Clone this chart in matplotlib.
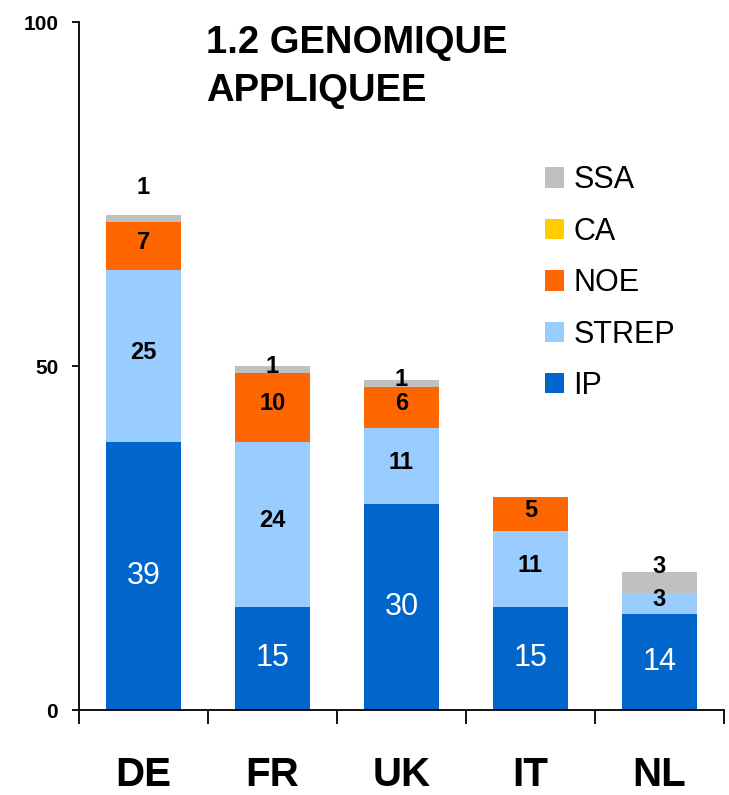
import matplotlib
matplotlib.use('Agg')
import matplotlib.pyplot as plt
from matplotlib.patches import Patch
import numpy as np

plt.rcParams['font.family'] = ['Liberation Sans', 'DejaVu Sans']

countries = ["DE", "FR", "UK", "IT", "NL"]
series = ["IP", "STREP", "NOE", "CA", "SSA"]
ip = [39, 15, 30, 15, 14]
strep = [25, 24, 11, 11, 3]
noe = [7, 10, 6, 5, 0]
ca = [0, 0, 0, 0, 0]
ssa = [1, 1, 1, 0, 3]
colors = ["#0066CC", "#99CCFF", "#FF6600", "#FFCC00", "#C0C0C0"]
title = "1.2 GENOMIQUE\nAPPLIQUEE"

values = [ip, strep, noe, ca, ssa]
# small label nudges (in data units) where the original moved them
nudge = {("DE", "SSA"): 4.0, ("NL", "SSA"): 1.8}

fig = plt.figure(figsize=(7.29, 7.95), dpi=100)
ax = fig.add_axes([0.1084, 0.1069, 0.8846, 0.8654])

x = np.arange(len(countries))
bottom = np.zeros(len(countries))
for name, vals, col in zip(series, values, colors):
    vals = np.array(vals, dtype=float)
    ax.bar(x, vals, 0.58, bottom=bottom, color=col, label=name, zorder=2)
    for i, v in enumerate(vals):
        if v <= 0:
            continue
        yc = bottom[i] + v / 2
        if name == "IP":
            ax.text(x[i], yc, f"{int(v)}", color="white", fontsize=22,
                    ha="center", va="center")
        else:
            yc += 0.5 + nudge.get((countries[i], name), 0)
            ax.text(x[i], yc, f"{int(v)}", color="black", fontsize=17,
                    fontweight="bold", ha="center", va="center")
    bottom += vals

ax.set_xlim(-0.5, 4.5)
ax.set_ylim(0, 100)
for s in ["top", "right"]:
    ax.spines[s].set_visible(False)
ax.spines["left"].set_linewidth(1.3)
ax.spines["bottom"].set_linewidth(1.3)

ax.set_yticks([0, 50, 100])
ax.set_yticklabels(["0", "50", "100"], fontsize=15, fontweight="bold")
ax.tick_params(axis="y", length=5, width=1.3, pad=10)

ax.set_xticks(np.arange(-0.5, 5, 1))
ax.set_xticklabels([])
ax.tick_params(axis="x", which="major", length=10, width=1.3, direction="out")
ax.set_xticks(x, minor=True)
ax.set_xticklabels(countries, minor=True, fontsize=29, fontweight="bold")
ax.tick_params(axis="x", which="minor", length=0, pad=33)

fig.text(0.282, 0.968, title, fontsize=27.5, fontweight="bold", va="top",
         ha="left", linespacing=1.43)

handles = [Patch(facecolor=c, edgecolor="none", label=n)
           for n, c in zip(series, colors)][::-1]
ax.legend(handles=handles, loc="upper left", bbox_to_anchor=(0.747, 0.792),
          bbox_transform=fig.transFigure, frameon=False, fontsize=22,
          handlelength=0.65, handleheight=0.65, handletextpad=0.3,
          labelspacing=0.7, borderpad=0, borderaxespad=0)

fig.savefig("out.png", dpi=100)
